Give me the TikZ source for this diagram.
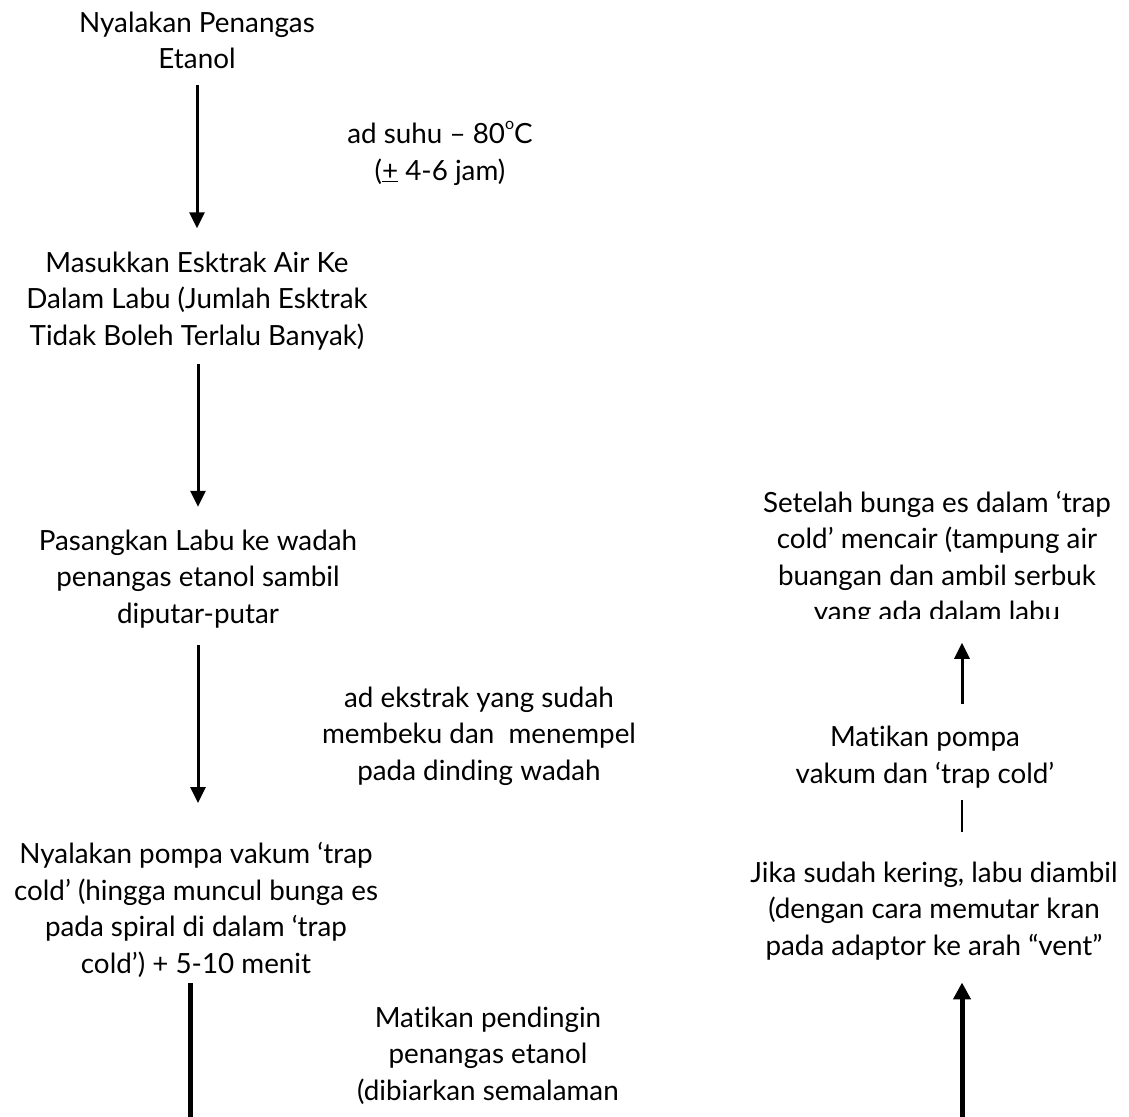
\documentclass[tikz,border=0pt]{standalone}
\usepackage{fontspec}
\setmainfont{Lato}[Ligatures={TeX,NoCommon}]
\usepackage{tikz}
\usetikzlibrary{arrows.meta,positioning}

\begin{document}
\begin{tikzpicture}[
    x=1pt, y=-1pt,
    stepbox/.style={inner sep=0pt, align=center, anchor=base, font=\fontsize{27.8}{36.5}\selectfont},
    note/.style={inner sep=0pt, align=center, anchor=base, font=\fontsize{27.8}{36.5}\selectfont},
    arrow/.style={-{Triangle[width=15pt,length=16pt]}, line width=3pt},
    boldarrow/.style={-{Triangle[width=17pt,length=17pt]}, line width=5pt},
    boldline/.style={line width=5.5pt},
    thinline/.style={line width=2.5pt}
  ]
    \useasboundingbox (0,0) rectangle (1129,1116);

    % left column (base = last line)
    \node[stepbox] (heater) at (197,69) {Nyalakan Penangas\\Etanol};
    \node[stepbox] (extract) at (197,345) {Masukkan Esktrak Air Ke\\Dalam Labu (Jumlah Esktrak\\Tidak Boleh Terlalu Banyak)};
    \node[stepbox] (flask) at (198,623) {Pasangkan Labu ke wadah\\penangas etanol sambil\\diputar-putar};
    \node[stepbox] (vacuum) at (196,973) {Nyalakan pompa vakum ‘trap\\cold’ (hingga muncul bunga es\\pada spiral di dalam ‘trap\\cold’) + 5-10 menit};
    \coordinate (leftend) at (190.5,1130);

    % notes beside the arrows
    \node[note] (temp) at (440,180) {ad suhu – 80\raisebox{14pt}{\fontsize{16}{16}\selectfont o}C\\(\underline{+} 4-6 jam)};
    \node[note] (frozen) at (479,780) {ad ekstrak yang sudah\\membeku dan\ \ menempel\\pada dinding wadah};
    \node[note] (cooler) at (488,1100) {Matikan pendingin\\penangas etanol\\(dibiarkan semalaman};

    % right column
    \begin{scope}
      \clip (600,400) rectangle (1129,618);
      \node[stepbox] (thaw) at (937,621.5) {Setelah bunga es dalam ‘trap\\cold’ mencair (tampung air\\buangan dan ambil serbuk\\yang ada dalam labu};
    \end{scope}
    \node[stepbox] (pumpoff) at (925,783) {Matikan pompa\\vakum dan ‘trap cold’};
    \node[stepbox] (dry) at (934,955) {Jika sudah kering, labu diambil\\(dengan cara memutar kran\\pada adaptor ke arah “vent”};
    \coordinate (rightstart) at (962,1130);

    \draw[arrow, shorten <=16pt, shorten >=23pt] (heater) -- (extract);
    \draw[arrow, shorten <=14.5pt, shorten >=22.5pt] ([xshift=1pt]extract.south) -- (flask.north);
    \draw[arrow, shorten <=17.5pt, shorten >=39pt] (flask.south) -- ([xshift=2pt]vacuum.north);
    \draw[boldline, shorten <=6pt] ([xshift=-5.5pt]vacuum.south) -- (leftend);
    \draw[boldarrow, shorten >=22.5pt] (rightstart) -- ([xshift=28pt]dry.south);
    \draw[thinline, shorten <=29pt, shorten >=12.5pt] ([xshift=28pt]dry.north) -- ([xshift=37pt]pumpoff.south);
    \draw[arrow, shorten <=22pt, shorten >=16pt] ([xshift=37pt]pumpoff.north) -- ([xshift=25pt]thaw.south);
\end{tikzpicture}
\end{document}
